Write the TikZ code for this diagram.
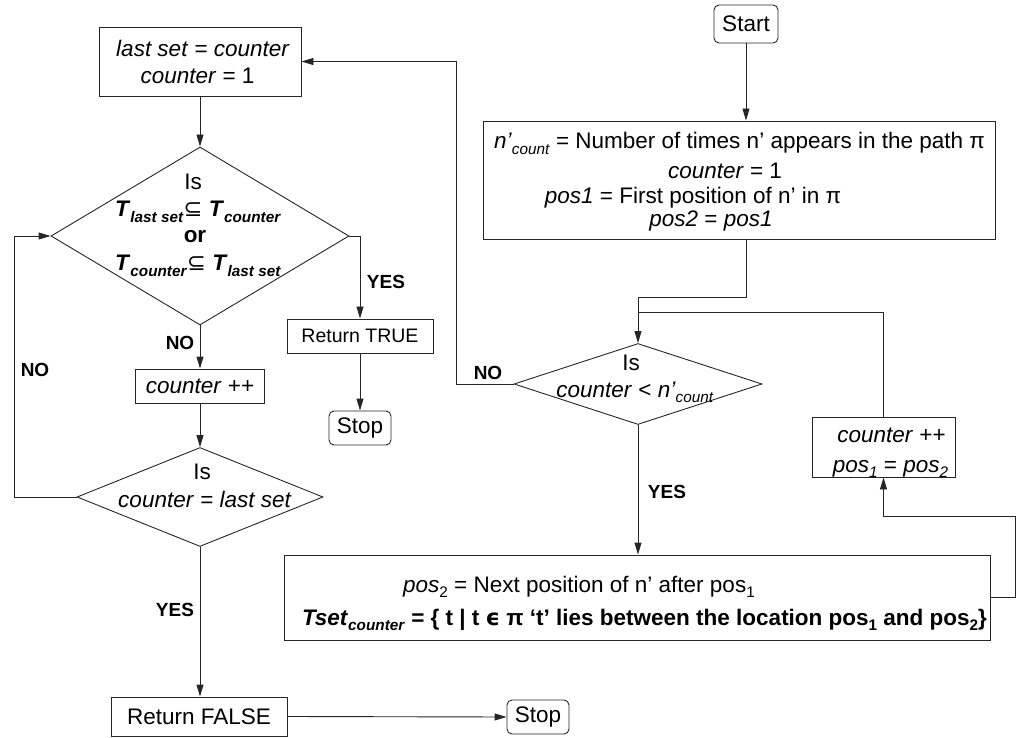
\documentclass[tikz,border=0pt]{standalone}
\usepackage{graphicx}
\usepackage{fontspec}
\setmainfont{Liberation Sans}
\newfontfamily\dvs{DejaVu Sans}
\usetikzlibrary{shapes.geometric,arrows.meta}
\newcommand\sbs[1]{\raisebox{-0.25em}{\scalebox{0.68}{#1}}}
\newcommand\fsz{\fontsize{22.5}{27}\selectfont}
\begin{document}
\begin{tikzpicture}[x=1pt,y=-1pt,
  line width=0.9pt, draw=black!85,
  every node/.style={font=\fsz, text=black},
  box/.style={draw=black!85, line width=0.9pt, rectangle, inner sep=0pt, align=center},
  term/.style={box, rounded corners=5pt},
  dmd/.style={draw=black!85, line width=0.9pt, diamond, inner sep=0pt},
  txt/.style={inner sep=0pt, anchor=base},
  arr/.style={-{Triangle[length=12pt,width=7pt]}},
  lab/.style={inner sep=0pt, font=\fontsize{19}{22}\selectfont\bfseries}]
\useasboundingbox (0,0) rectangle (1018,738);

% ---- left column ----
\node[box, minimum width=202, minimum height=69] (A) at (200,61.5) {};
\node[txt] (a1) at (203,57) {\textit{last set} = \textit{counter}};
\node[txt] (a2) at (197.5,83.5) {\textit{counter} = 1};

\node[dmd, minimum width=298, minimum height=178] (D1) at (200,236) {};
\node[txt] (d1a) at (193,190) {Is};
\node[txt] (d1b) at (198,217) {\textbf{\textit{T}\sbs{\textit{last set}}}{\dvs ⊆} \textbf{\textit{T}\sbs{\textit{counter}}}};
\node[txt] (d1c) at (195,243) {\textbf{or}};
\node[txt] (d1d) at (198,271) {\textbf{\textit{T}\sbs{\textit{counter}}}{\dvs ⊆} \textbf{\textit{T}\sbs{\textit{last set}}}};

\node[box, minimum width=146, minimum height=34, font=\fontsize{19.5}{22}\selectfont] (TRUE) at (360,336) {Return TRUE};
\node[term, minimum width=62, minimum height=34] (StopT) at (360,428) {Stop};

\node[box, minimum width=129, minimum height=34] (cnt) at (200,386) {\textit{counter} ++};
\node[dmd, minimum width=246, minimum height=99] (D3) at (200,497) {};
\node[txt] (d3a) at (202,479) {Is};
\node[txt] (d3b) at (205,507) {\textit{counter} = \textit{last set}};

\node[box, minimum width=176, minimum height=39] (FALSE) at (199,716.5) {Return FALSE};
\node[term, minimum width=62, minimum height=34] (StopB) at (538,717) {Stop};

% ---- right column ----
\node[term, minimum width=64, minimum height=38] (Start) at (746,24) {Start};
\node[box, minimum width=512, minimum height=118] (B) at (739,180) {};
\node[txt] (b1) at (739.5,149) {\textit{n’}\sbs{\textit{count}} = Number of times n’ appears in the path π};
\node[txt] (b2) at (725,179) {\textit{counter} = 1};
\node[txt] (b3) at (693,204) {\textit{pos1} = First position of n’ in π};
\node[txt] (b4) at (711,227) {\textit{pos2} = \textit{pos1}};

\node[dmd, minimum width=248, minimum height=81] (D2) at (638,384) {};
\node[txt] (d2a) at (631,370) {Is};
\node[txt] (d2b) at (635,397) {\textit{counter} < \textit{n’}\sbs{\textit{count}}};

\node[box, minimum width=143, minimum height=60] (C) at (883.5,447) {};
\node[txt] (c1) at (891.5,442) {\textit{counter} ++};
\node[txt] (c2) at (890.5,472) {\textit{pos}\sbs{\textit{1}} = \textit{pos}\sbs{\textit{2}}};

\node[box, minimum width=706, minimum height=85] (D) at (637,597.5) {};
\node[txt] (e1) at (579,592) {\textit{pos}\sbs{2} = Next position of n’ after pos\sbs{1}};
\node[txt] (e2) at (644.5,625) {\textbf{\textit{Tset}\sbs{\textit{counter}} = \{ t | t {\dvs ϵ} π ‘t’ lies between the location pos\sbs{1} and pos\sbs{2}\}}};

% ---- labels ----
\node[lab] (l1) at (386,282) {YES};
\node[lab] (l2) at (180,343) {NO};
\node[lab] (l3) at (35,370) {NO};
\node[lab] (l4) at (175,610) {YES};
\node[lab] (l5) at (488,373) {NO};
\node[lab] (l6) at (667,492) {YES};

% ---- coordinates ----
\coordinate (jB) at (746,297);
\coordinate (jC) at (638,312);
\coordinate (nL) at (456,384);
\coordinate (rD) at (1015,597.5);
\coordinate (rC) at (1015,516);
\coordinate (lL) at (14,497);

% ---- connectors ----
\draw[arr] (A.south) -- (D1.north);
\draw[arr] (D1.east) -| (TRUE.north);
\draw[arr] (TRUE.south) -- (StopT.north);
\draw[arr] (D1.south) -- (cnt.north);
\draw[arr] (cnt.south) -- (D3.north);
\draw[arr] (D3.west) -- (lL) |- (D1.west);
\draw[arr] (D3.south) -- (D3.south |- FALSE.north);
\draw[arr] (FALSE.east) -- (StopB.west);

\draw[arr] (Start.south) -- (B.north -| Start.south);
\draw[arr] (B.south -| Start.south) -- (jB) -| (D2.north);
\draw (C.north) |- (jC);
\draw[arr] (D2.west) -- (nL) |- (A.east);
\draw[arr] (D2.south) -- (D2.south |- D.north);
\draw[arr] (D.east) -- (rD) -- (rC) -| (C.south);
\end{tikzpicture}
\end{document}
